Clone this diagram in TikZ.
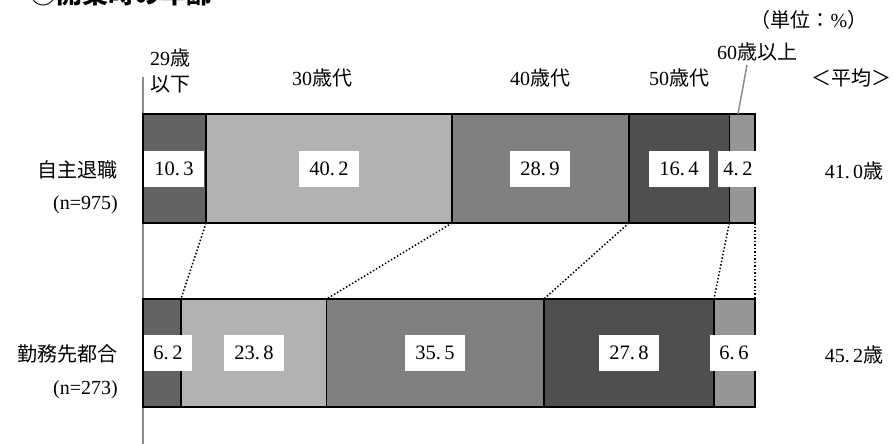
\documentclass[tikz,border=0pt]{standalone}
\usepackage{fontspec}
\setmainfont{Liberation Serif}
\newfontfamily\jp{Noto Sans CJK JP}
\definecolor{c29}{gray}{0.39}
\definecolor{c30}{gray}{0.70}
\definecolor{c40}{gray}{0.50}
\definecolor{c50}{gray}{0.31}
\definecolor{c60}{gray}{0.59}
\definecolor{axisgray}{gray}{0.55}
\begin{document}
\begin{tikzpicture}[x=1pt,y=-1pt,
    seg/.style={draw=black,line width=1.5pt},
    val/.style={fill=white,inner ysep=0pt,minimum height=36pt,font=\fontsize{20.5}{20}\selectfont},
    lab/.style={inner sep=0pt,font=\fontsize{20}{25.5}\selectfont},
    link/.style={dotted,line width=1.5pt}]
    \useasboundingbox (0,0) rectangle (894,444);
    \clip (0,0) rectangle (894,444);
    \def\xL{143}
    \def\u{6.12}
    \node[anchor=base west,inner sep=0pt,font=\jp\bfseries\fontsize{26}{26}\selectfont] (title) at (30,4) {①開業時の年齢};
    \coordinate (axtop) at (\xL,77);
    \coordinate (axbot) at (\xL,444);
    \draw[axisgray,line width=2pt] (axtop) -- (axbot);
    % bars
    \foreach \a/\b/\c [count=\i] in {0/10.3/c29,10.3/50.5/c30,50.5/79.4/c40,79.4/95.8/c50,95.8/100/c60}
    {
    \filldraw[seg,fill=\c] ({\xL+\u*\a},114) rectangle ({\xL+\u*\b},223);
    }
    \foreach \a/\b/\c [count=\i] in {0/6.2/c29,6.2/30/c30,30/65.5/c40,65.5/93.3/c50,93.3/100/c60}
    {
    \filldraw[seg,fill=\c] ({\xL+\u*\a},299) rectangle ({\xL+\u*\b},407);
    }
    % values
    \foreach \x/\s/\v [count=\i] in {174/10/{10.\,3},329/10/{40.\,2},540/10/{28.\,9},679/10/{16.\,4},738/5/{4.\,2}}
    \node[val,inner xsep=\s pt] (t\i) at (\x,169) {\v};
    \foreach \x/\s/\v [count=\i] in {168/9/{6.\,2},254/10/{23.\,8},435/10/{35.\,5},629/10/{27.\,8},734/9/{6.\,6}}
    \node[val,inner xsep=\s pt] (b\i) at (\x,353) {\v};
    % dotted links
    \foreach \p/\q [count=\i] in {10.3/6.2,50.5/30,79.4/65.5,95.8/93.3,100/100}
    {
    \coordinate (tb\i) at ({\xL+\u*\p},223);
    \coordinate (bt\i) at ({\xL+\u*\q},299);
    \draw[link] (tb\i) -- (bt\i);
    }
    % age labels
    \node[lab,align=left,anchor=west] (l29) at (150,71) {29{\jp 歳}\\{\jp 以下}};
    \node[lab] (l30) at (322,78) {30{\jp 歳代}};
    \node[lab] (l40) at (540,78) {40{\jp 歳代}};
    \node[lab] (l50) at (679,78) {50{\jp 歳代}};
    \node[lab] (l60) at (757,52) {60{\jp 歳以上}};
    \coordinate (q60) at (747,65);
    \coordinate (p60) at (738,114);
    \draw[axisgray,line width=1.5pt] (q60) -- (p60);
    \node[lab] (unit) at (809,20) {{\jp （単位：}\%{\jp ）}};
    \node[lab] (avg) at (851,78) {\jp ＜平均＞};
    % rows
    \node[lab,anchor=east] (r1) at (118,170) {\jp 自主退職};
    \node[lab,anchor=east] (n1) at (118,205) {(n=975)};
    \node[lab,anchor=east] (r2) at (118,354) {\jp 勤務先都合};
    \node[lab,anchor=east] (n2) at (118,390) {(n=273)};
    \node[lab] (m1) at (854,171) {41.\,0{\jp 歳}};
    \node[lab] (m2) at (854,355) {45.\,2{\jp 歳}};
\end{tikzpicture}
\end{document}
